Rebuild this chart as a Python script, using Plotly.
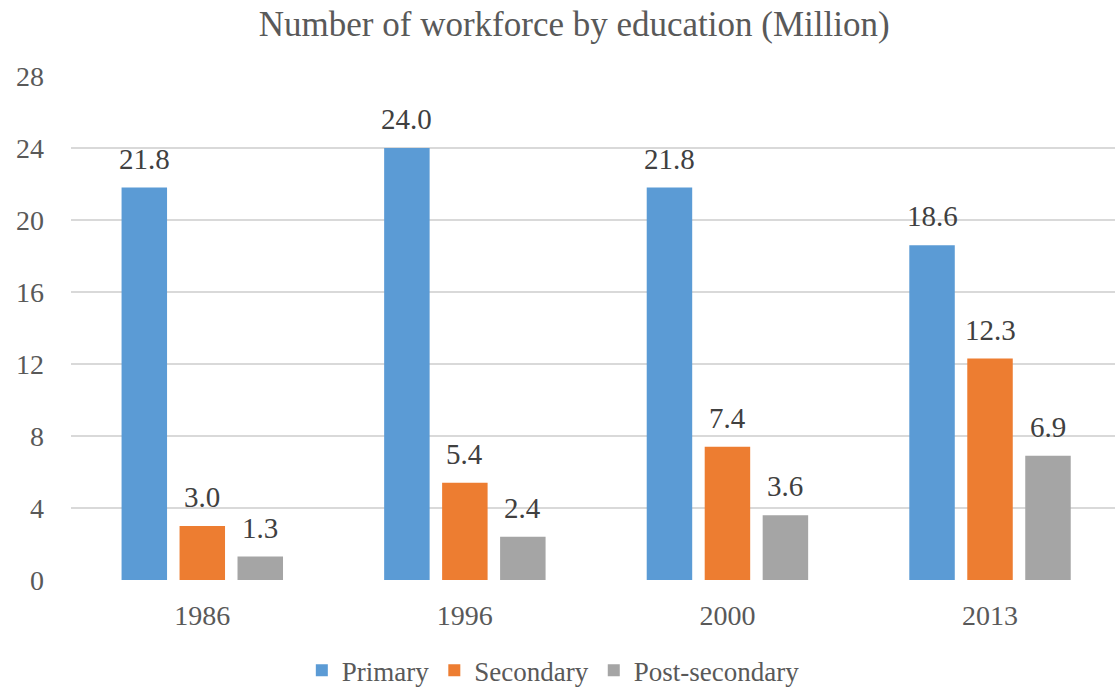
import plotly.graph_objects as go

# Workforce size by education level, millions
years = ["1986", "1996", "2000", "2013"]
series_names = ["Primary", "Secondary", "Post-secondary"]
primary = [21.8, 24.0, 21.8, 18.6]
secondary = [3.0, 5.4, 7.4, 12.3]
post_secondary = [1.3, 2.4, 3.6, 6.9]
y_ticks = [0, 4, 8, 12, 16, 20, 24, 28]

colors = ["#5B9BD5", "#ED7D31", "#A5A5A5"]
values = [primary, secondary, post_secondary]

FONT = "Liberation Serif"
BARGAP = 0.3376
BARGROUPGAP = 0.2155

fig = go.Figure()
for name, vals, col in zip(series_names, values, colors):
    fig.add_trace(go.Bar(
        x=list(range(len(years))), y=vals, name=name,
        marker=dict(color=col, line=dict(width=0)),
        hoverinfo="skip",
    ))

# value labels above each bar, placed at the bar's centre
slot = (1 - BARGAP) / len(series_names)
annotations = []
for i, vals in enumerate(values):
    offset = (i - (len(series_names) - 1) / 2) * slot
    for j, v in enumerate(vals):
        annotations.append(dict(
            x=j + offset, y=v, xref="x", yref="y",
            text=f"{v:.1f}", showarrow=False,
            yanchor="bottom", yshift=11,
            font=dict(family=FONT, size=29, color="#404040"),
        ))

fig.update_layout(
    width=1115, height=688,
    font=dict(family=FONT, color="#595959"),
    margin=dict(l=71, r=0, t=76, b=108, autoexpand=False),
    paper_bgcolor="white", plot_bgcolor="white",
    barmode="group", bargap=BARGAP, bargroupgap=BARGROUPGAP,
    title=dict(
        text="Number of workforce by education (Million)",
        x=0.482, xanchor="center", xref="paper",
        y=0.965, yanchor="middle", yref="container",
        font=dict(family=FONT, size=35, color="#595959"),
    ),
    xaxis=dict(
        range=[-0.5, 3.476], tickmode="array",
        tickvals=list(range(len(years))), ticktext=years,
        showgrid=False, zeroline=False, showline=False,
        ticks="", ticklabelstandoff=16,
        tickfont=dict(family=FONT, size=28, color="#595959"),
    ),
    yaxis=dict(
        range=[0, 28], tickmode="array", tickvals=y_ticks,
        showgrid=True, gridcolor="#D9D9D9", gridwidth=1.5,
        zeroline=False, showline=False, ticks="",
        ticklabelstandoff=26,
        tickfont=dict(family=FONT, size=28, color="#595959"),
    ),
    legend=dict(
        orientation="h", x=0.462, xanchor="center",
        y=0.025, yanchor="middle", yref="container",
        font=dict(family=FONT, size=27, color="#595959"),
        itemwidth=30, tracegroupgap=0,
    ),
    annotations=annotations,
    showlegend=True,
)

fig.write_html("out.html")
